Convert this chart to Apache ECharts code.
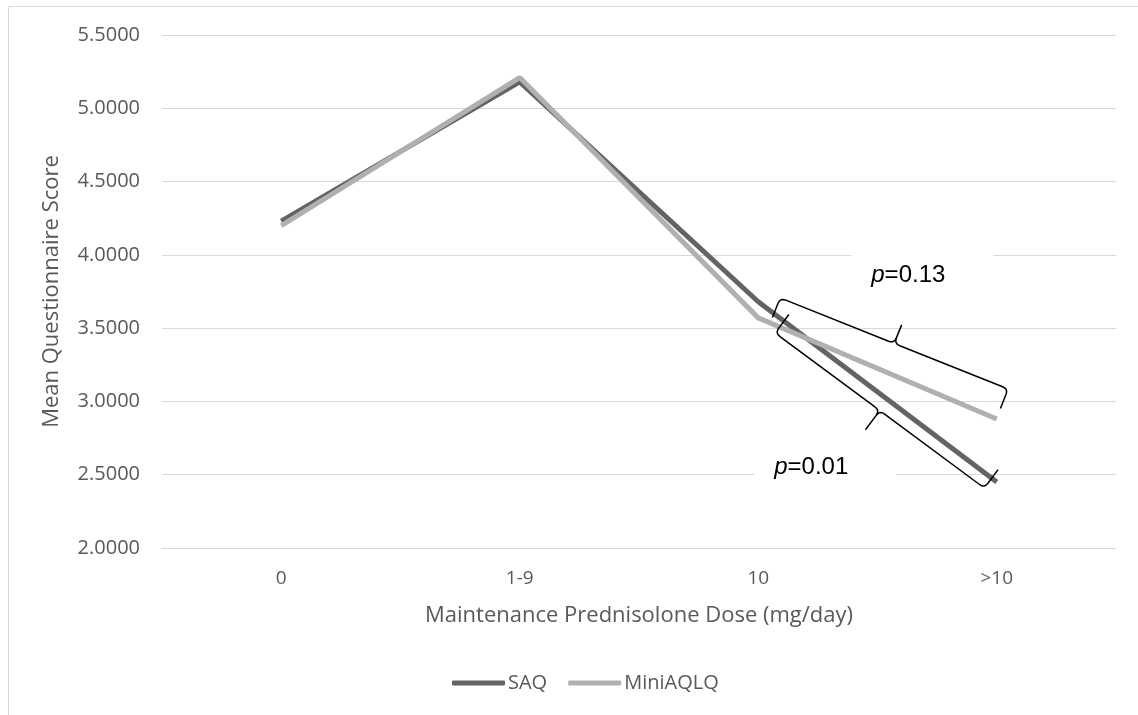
<!DOCTYPE html>
<html>
<head>
<meta charset="utf-8">
<script src="https://cdn.jsdelivr.net/npm/echarts@6/dist/echarts.min.js"></script>
<style>
html,body{margin:0;padding:0;background:#fff;}
#c{width:1138px;height:715px;}
</style>
</head>
<body>
<div id="c"></div>
<script>
const categories = ['0', '1-9', '10', '>10'];
const saq = [4.23, 5.18, 3.68, 2.45];
const miniAqlq = [4.20, 5.21, 3.57, 2.88];
const yTicks = [2.0, 2.5, 3.0, 3.5, 4.0, 4.5, 5.0, 5.5];

// annotation anchors in data space: [category index, value]
const braceUpper = { from: [2.092, 3.706], to: [3.048, 3.085], hook: 21, tick: 20, side: 1 };
const braceLower = { from: [2.071, 3.467], to: [2.948, 2.409], hook: 23, tick: 24, side: -1 };
const labelUpper = { at: [2.390, 3.863], p: 'p', rest: '=0.13' };
const labelLower = { at: [1.983, 2.553], p: 'p', rest: '=0.01' };

const font = '"Open Sans", sans-serif';
const chart = echarts.init(document.getElementById('c'));

chart.setOption({
  backgroundColor: '#fff',
  animation: false,
  grid: { left: 162, right: 22, top: 35, bottom: 167 },
  legend: {
    data: ['SAQ', 'MiniAQLQ'],
    left: 447, top: 668,
    itemWidth: 53, itemHeight: 5, itemGap: 21,
    icon: 'roundRect',
    textStyle: { fontFamily: font, fontSize: 20, color: '#595959', padding: [0, 0, 0, -2] }
  },
  xAxis: {
    type: 'category',
    data: categories,
    boundaryGap: true,
    axisLine: { lineStyle: { color: '#d9d9d9', width: 1 } },
    axisTick: { show: false },
    axisLabel: { fontFamily: font, fontSize: 19, color: '#595959', margin: 21 },
    name: 'Maintenance Prednisolone Dose (mg/day)',
    nameLocation: 'middle',
    nameGap: 57,
    nameTextStyle: { fontFamily: font, fontSize: 22, color: '#595959' }
  },
  yAxis: {
    type: 'value',
    min: yTicks[0], max: yTicks[yTicks.length - 1], interval: 0.5,
    axisLine: { show: false },
    axisTick: { show: false },
    splitLine: { lineStyle: { color: '#d9d9d9', width: 1 } },
    axisLabel: { fontFamily: font, fontSize: 20, color: '#595959', margin: 22,
      formatter: v => v.toFixed(4) },
    name: 'Mean Questionnaire Score',
    nameLocation: 'middle',
    nameRotate: 90,
    nameGap: 99,
    nameTextStyle: { fontFamily: font, fontSize: 22, color: '#595959' }
  },
  series: [
    { name: 'SAQ', type: 'line', data: saq, symbol: 'none',
      lineStyle: { color: '#636363', width: 5 }, itemStyle: { color: '#636363' } },
    { name: 'MiniAQLQ', type: 'line', data: miniAqlq, symbol: 'none',
      lineStyle: { color: '#b0b0b0', width: 5 }, itemStyle: { color: '#b0b0b0' } }
  ]
});

function toPx(pt) {
  const a = chart.convertToPixel({ gridIndex: 0 }, [0, pt[1]]);
  const b = chart.convertToPixel({ gridIndex: 0 }, [1, pt[1]]);
  return [a[0] + pt[0] * (b[0] - a[0]), a[1]];
}

function quad(p0, c, p1, n) {
  const out = [];
  for (let i = 1; i <= n; i++) {
    const t = i / n, m = 1 - t;
    out.push([m * m * p0[0] + 2 * m * t * c[0] + t * t * p1[0],
              m * m * p0[1] + 2 * m * t * c[1] + t * t * p1[1]]);
  }
  return out;
}

function bracePoints(b) {
  const P1 = toPx(b.from), P2 = toPx(b.to);
  const dx = P2[0] - P1[0], dy = P2[1] - P1[1];
  const L = Math.hypot(dx, dy);
  const u = [dx / L, dy / L];
  let n = [-u[1], u[0]];
  if (b.side < 0) n = [u[1], -u[0]];
  const add = (p, v, s) => [p[0] + v[0] * s, p[1] + v[1] * s];
  const r = 6;
  const M = [(P1[0] + P2[0]) / 2, (P1[1] + P2[1]) / 2];
  const pts = [];
  pts.push(add(P1, n, b.hook));
  pts.push(add(P1, n, r));
  pts.push(...quad(add(P1, n, r), P1, add(P1, u, r), 6));
  pts.push(add(M, u, -r));
  pts.push(...quad(add(M, u, -r), M, add(M, n, -r), 6));
  pts.push(add(M, n, -b.tick));
  const back = [add(M, n, -r)];
  back.push(...quad(add(M, n, -r), M, add(M, u, r), 6));
  const tail = [];
  tail.push(add(P2, u, -r));
  tail.push(...quad(add(P2, u, -r), P2, add(P2, n, r), 6));
  tail.push(add(P2, n, b.hook));
  return [pts, back.concat(tail)];
}

function labelEl(l) {
  const p = toPx(l.at);
  return {
    type: 'text', x: p[0], y: p[1], z: 100,
    style: {
      text: '{i|' + l.p + '}{n|' + l.rest + '}',
      textAlign: 'left', textVerticalAlign: 'middle',
      backgroundColor: '#fff',
      padding: [14, 48, 14, 20],
      rich: {
        i: { fontFamily: '"Liberation Sans", Arial, sans-serif', fontSize: 24, fontStyle: 'italic', fill: '#000' },
        n: { fontFamily: '"Liberation Sans", Arial, sans-serif', fontSize: 24, fill: '#000' }
      }
    }
  };
}

function draw() {
  const els = [];
  els.push({ type: 'rect', z: 0, silent: true,
    shape: { x: 8.5, y: 6.5, width: 1200, height: 800 },
    style: { fill: 'none', stroke: '#d9d9d9', lineWidth: 1 } });
  els.push(labelEl(labelUpper));
  els.push(labelEl(labelLower));
  [braceUpper, braceLower].forEach(b => {
    const [a, c] = bracePoints(b);
    [a, c].forEach(pts => els.push({ type: 'polyline', z: 101, silent: true,
      shape: { points: pts },
      style: { stroke: '#000', lineWidth: 1.5, fill: 'none', lineJoin: 'round' } }));
  });
  chart.setOption({ graphic: els });
}
draw();
</script>
</body>
</html>
